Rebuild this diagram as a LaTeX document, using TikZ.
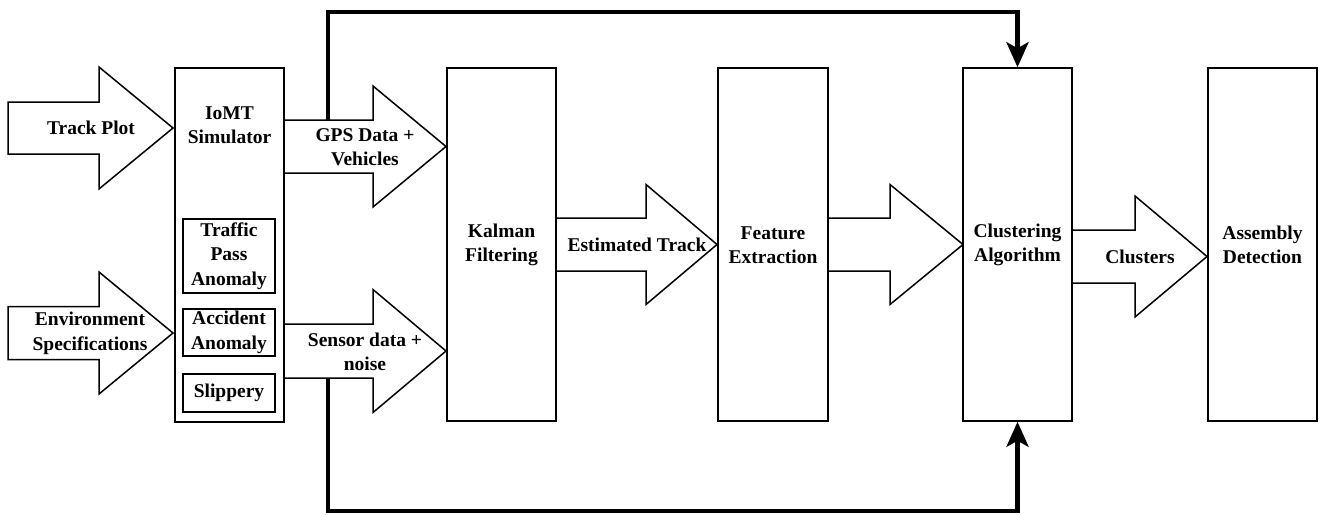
\documentclass[tikz,border=0pt]{standalone}
\usepackage{fontspec}
\setmainfont{Liberation Serif}
\usetikzlibrary{arrows.meta}

% Hollow block arrow: #1 name, #2 tail x, #3 head start x, #4 tip x,
% #5 centre y, #6 shaft half height, #7 head half height
\newcommand{\blockarrow}[7]{%
  \draw[blk] (#2,#5-#6) -- (#3,#5-#6) -- (#3,#5-#7) -- (#4,#5)
    -- (#3,#5+#7) -- (#3,#5+#6) -- (#2,#5+#6) -- cycle;
  \coordinate (#1-tl) at (#2,#5-#6);
  \coordinate (#1-bl) at (#2,#5+#6);
}

\begin{document}
\begin{tikzpicture}[x=1pt,y=-1pt,
  blk/.style={draw, line width=1.5pt, fill=white, line join=miter},
  stage/.style={blk, rectangle, inner sep=0pt, minimum width=109pt, minimum height=353pt},
  sub/.style={blk, rectangle, inner sep=0pt, minimum width=92pt},
  lbl/.style={font=\fontsize{19.5}{24.5}\selectfont\bfseries, align=center, inner sep=0pt},
  fb/.style={line width=4.5pt, -{Stealth[length=25pt,width=22pt,inset=6pt]}},
]
\useasboundingbox (0,0) rectangle (1322,514);

% processing stages
\node[stage, minimum height=354pt] (iomt) at (229.5,245) {};
\node[stage] (kalman) at (501.5,244.5) {};
\node[stage, minimum width=110pt] (feat) at (773,244.5) {};
\node[stage] (clust) at (1017.5,244.5) {};
\node[stage] (asm) at (1262.5,244.5) {};

% anomaly modules inside the simulator
\node[sub, minimum height=74pt] (traffic) at (229,256) {};
\node[sub, minimum height=47pt] (accident) at (229,332.5) {};
\node[sub, minimum height=38pt] (slip) at (229,393) {};

% block arrows
\blockarrow{track}{8}{99}{173}{128}{26}{61}
\blockarrow{env}{8}{99}{173}{333}{26.5}{61}
\blockarrow{gps}{284}{373}{446}{146.5}{26.5}{60.5}
\blockarrow{sens}{284}{373}{446}{351}{27}{61.5}
\blockarrow{est}{556}{646}{717}{244.5}{26.5}{60}
\blockarrow{fx}{828}{890}{963}{244.5}{26.5}{60}
\blockarrow{cl}{1072}{1135}{1207}{256.5}{26.5}{60.5}

% feedback paths into the clustering stage
\coordinate (gpsfb) at (328,120);
\coordinate (sensfb) at (328,378);
\draw[fb] (gpsfb) -- ++(0,-108) -| (clust.north);
\draw[fb] (sensfb) -- ++(0,133) -| (clust.south);

% labels
\node[lbl] (tTrack) at (91,128) {Track Plot};
\node[lbl] (tEnv) at (90,333.5) {Environment\\Specifications};
\node[lbl] (tIomt) at (229.5,125) {IoMT\\Simulator};
\node[lbl] (tTraffic) at (229,256) {Traffic\\Pass\\Anomaly};
\node[lbl] (tAcc) at (229,332.5) {Accident\\Anomaly};
\node[lbl] (tSlip) at (229,393) {Slippery};
\node[lbl] (tGps) at (365,147) {GPS Data +\\Vehicles};
\node[lbl] (tSens) at (365,352) {Sensor data +\\noise};
\node[lbl] (tKal) at (501.5,245) {Kalman\\Filtering};
\node[lbl] (tEst) at (637,245) {Estimated Track};
\node[lbl] (tFeat) at (773,245) {Feature\\Extraction};
\node[lbl] (tClust) at (1017.5,245) {Clustering\\Algorithm};
\node[lbl] (tCl) at (1140,257) {Clusters};
\node[lbl] (tAsm) at (1262.5,245) {Assembly\\Detection};
\end{tikzpicture}
\end{document}
